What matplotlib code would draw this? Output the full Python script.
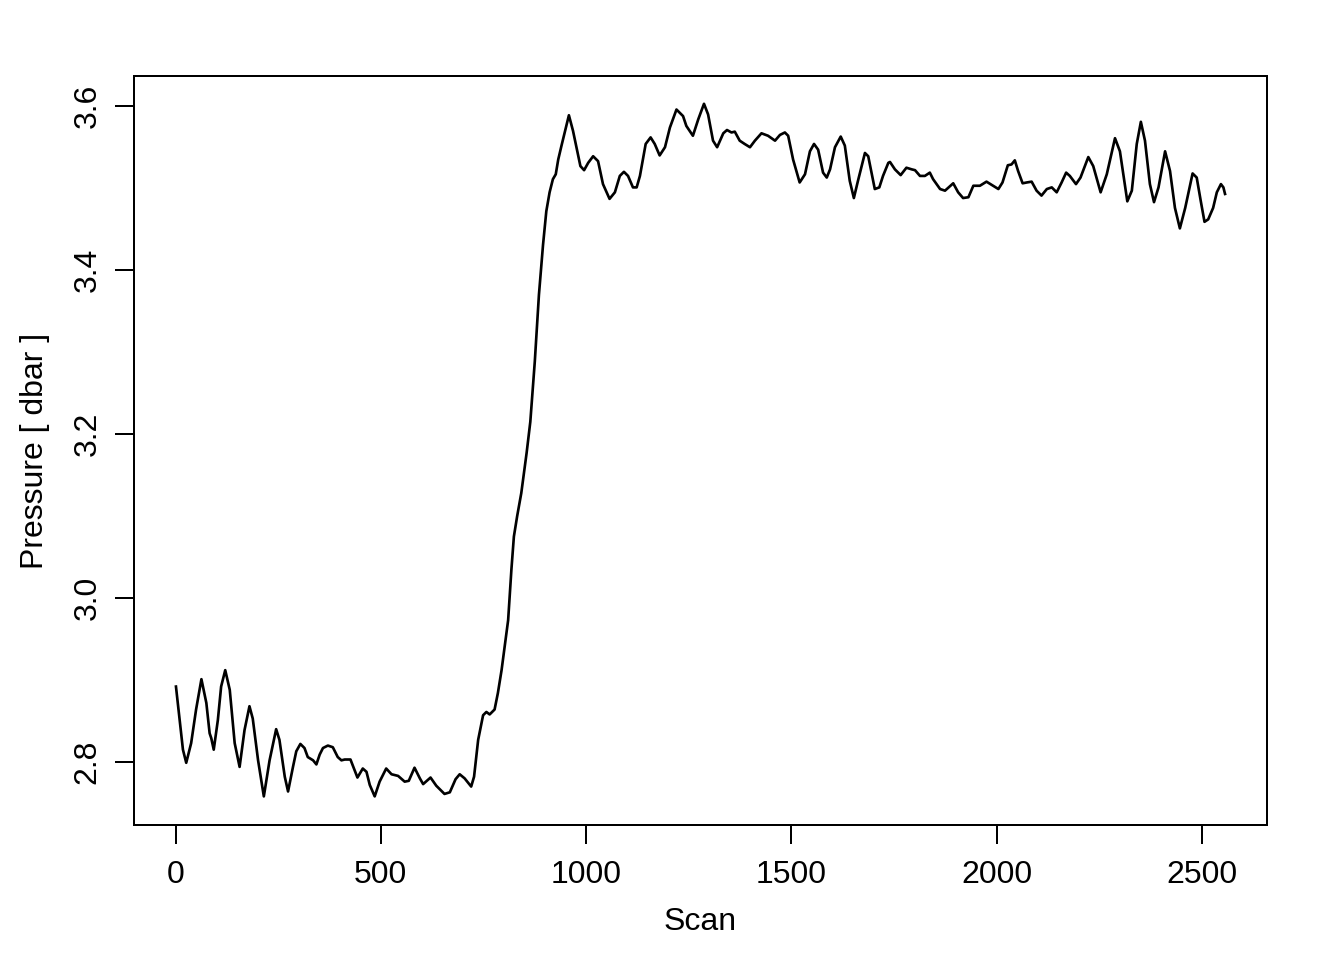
import matplotlib
matplotlib.use("Agg")
import matplotlib.pyplot as plt

scan = [1, 18, 26, 38, 50, 63, 75, 83, 87, 93, 103, 111, 121, 132, 144, 156, 168, 180, 188, 201,
        215, 229, 245, 253, 266, 274, 286, 294, 304, 314, 322, 335, 343, 351, 359, 371, 383, 395, 404, 412,
        426, 443, 456, 465, 473, 485, 497, 513, 526, 542, 558, 568, 582, 595, 603, 621, 635, 655, 668, 682,
        692, 704, 720, 727, 737, 749, 757, 765, 777, 785, 794, 810, 818, 824, 832, 842, 855, 864, 875, 885,
        895, 903, 911, 919, 926, 932, 940, 958, 968, 986, 995, 1005, 1017, 1029, 1041, 1057, 1070, 1082, 1092, 1102,
        1114, 1123, 1131, 1145, 1157, 1167, 1179, 1192, 1204, 1220, 1236, 1244, 1260, 1273, 1287, 1297, 1309, 1319, 1334, 1343,
        1354, 1362, 1374, 1386, 1399, 1411, 1427, 1443, 1460, 1472, 1484, 1492, 1504, 1520, 1533, 1545, 1555, 1565, 1577, 1586,
        1594, 1606, 1620, 1630, 1642, 1652, 1662, 1679, 1687, 1703, 1714, 1723, 1736, 1740, 1752, 1766, 1780, 1793, 1801, 1813,
        1825, 1837, 1845, 1862, 1874, 1894, 1906, 1918, 1931, 1943, 1959, 1975, 1991, 2004, 2014, 2027, 2036, 2044, 2052, 2063,
        2073, 2085, 2097, 2109, 2122, 2134, 2146, 2158, 2169, 2178, 2193, 2204, 2223, 2235, 2253, 2268, 2288, 2300, 2318, 2329,
        2341, 2351, 2361, 2373, 2383, 2394, 2410, 2422, 2434, 2446, 2459, 2477, 2487, 2497, 2506, 2515, 2527, 2536, 2546, 2552,
        2556]

pressure = [2.892, 2.815, 2.799, 2.823, 2.864, 2.901, 2.872, 2.835, 2.829, 2.815, 2.851, 2.892, 2.912, 2.888, 2.823, 2.794, 2.839, 2.868, 2.853, 2.802,
            2.758, 2.802, 2.840, 2.827, 2.782, 2.764, 2.794, 2.813, 2.822, 2.817, 2.806, 2.802, 2.797, 2.809, 2.817, 2.820, 2.818, 2.806, 2.802, 2.803,
            2.803, 2.781, 2.792, 2.788, 2.772, 2.758, 2.776, 2.792, 2.785, 2.783, 2.776, 2.777, 2.793, 2.780, 2.773, 2.781, 2.771, 2.761, 2.763, 2.779,
            2.785, 2.780, 2.770, 2.782, 2.827, 2.857, 2.861, 2.858, 2.864, 2.884, 2.912, 2.973, 3.035, 3.075, 3.100, 3.128, 3.177, 3.215, 3.289, 3.370,
            3.431, 3.472, 3.495, 3.511, 3.517, 3.535, 3.552, 3.589, 3.570, 3.527, 3.522, 3.531, 3.539, 3.533, 3.505, 3.487, 3.495, 3.515, 3.520, 3.515,
            3.501, 3.501, 3.515, 3.554, 3.562, 3.554, 3.540, 3.550, 3.574, 3.596, 3.588, 3.576, 3.564, 3.584, 3.603, 3.590, 3.558, 3.550, 3.567, 3.571,
            3.568, 3.569, 3.558, 3.554, 3.550, 3.558, 3.567, 3.564, 3.558, 3.565, 3.568, 3.564, 3.535, 3.507, 3.517, 3.545, 3.554, 3.547, 3.519, 3.513,
            3.523, 3.550, 3.563, 3.552, 3.509, 3.488, 3.509, 3.543, 3.539, 3.499, 3.501, 3.515, 3.531, 3.532, 3.523, 3.516, 3.525, 3.523, 3.522, 3.515,
            3.515, 3.519, 3.511, 3.499, 3.497, 3.506, 3.495, 3.488, 3.489, 3.503, 3.503, 3.508, 3.503, 3.499, 3.507, 3.528, 3.529, 3.534, 3.521, 3.506,
            3.507, 3.508, 3.497, 3.491, 3.499, 3.501, 3.495, 3.507, 3.519, 3.515, 3.505, 3.513, 3.538, 3.527, 3.495, 3.517, 3.561, 3.545, 3.484, 3.497,
            3.554, 3.581, 3.558, 3.505, 3.483, 3.501, 3.545, 3.521, 3.476, 3.451, 3.476, 3.518, 3.513, 3.484, 3.459, 3.462, 3.476, 3.495, 3.505, 3.501,
            3.493]

x_ticks = [0, 500, 1000, 1500, 2000, 2500]
y_ticks = [2.8, 3.0, 3.2, 3.4, 3.6]
y_tick_labels = ["2.8", "3.0", "3.2", "3.4", "3.6"]

plt.rcParams['font.family'] = ['Liberation Sans', 'DejaVu Sans']
plt.rcParams['font.size'] = 12

fig = plt.figure(figsize=(7, 5), dpi=192)
ax = fig.add_axes([134 / 1344, 1 - 825 / 960, (1267 - 134) / 1344, (825 - 76) / 960])

ax.plot(scan, pressure, color='black', linewidth=1.0, solid_joinstyle='round')

ax.set_xlim(-101.2, 2658.2)
ax.set_ylim(2.7231, 3.6369)

ax.set_xticks(x_ticks)
ax.set_xticklabels([str(v) for v in x_ticks])
ax.set_yticks(y_ticks)
ax.set_yticklabels(y_tick_labels, rotation=90, va='center')

ax.tick_params(axis='both', direction='out', length=7.3, width=0.75, labelsize=12, color='black')
ax.tick_params(axis='x', pad=6.0)
ax.tick_params(axis='y', pad=4.5)

for s in ax.spines.values():
    s.set_linewidth(0.75)
    s.set_color('black')

ax.set_xlabel('Scan', fontsize=12, va='center')
ax.xaxis.set_label_coords(0.5, (825 - 922) / 749)
ax.set_ylabel('Pressure [ dbar ]', fontsize=12, va='center')
ax.yaxis.set_label_coords((35 - 134) / 1133, 0.5)

fig.savefig('out.png', dpi=192)
